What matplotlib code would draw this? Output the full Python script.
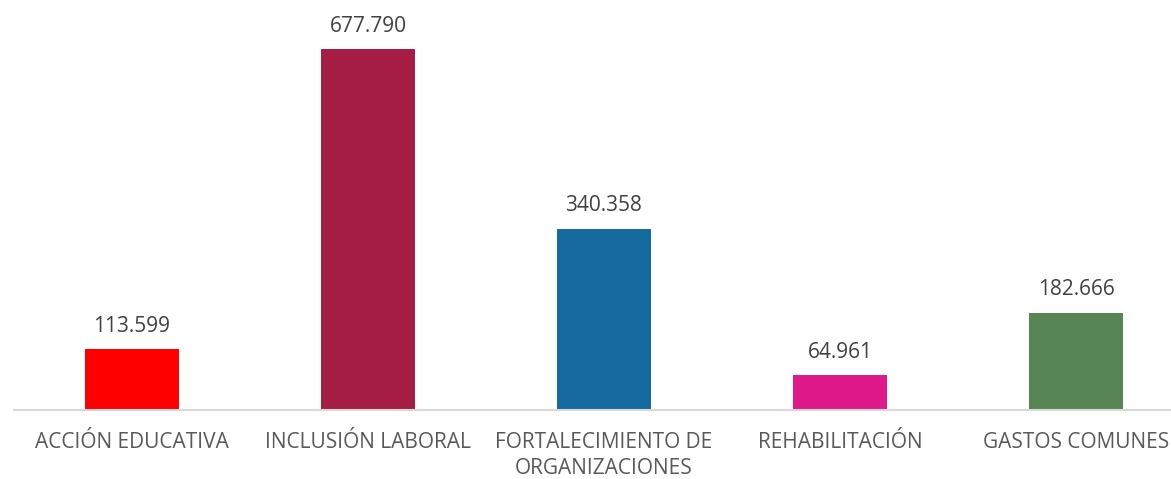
import matplotlib
matplotlib.use('Agg')
import matplotlib.pyplot as plt

categories = ['ACCIÓN EDUCATIVA', 'INCLUSIÓN LABORAL', 'FORTALECIMIENTO DE\nORGANIZACIONES',
              'REHABILITACIÓN', 'GASTOS COMUNES']
values = [113.599, 677.790, 340.358, 64.961, 182.666]
value_labels = ['113.599', '677.790', '340.358', '64.961', '182.666']
colors = ['#FF0000', '#A51C45', '#156B9F', '#E0198A', '#578654']

plt.rcParams['font.family'] = ['Open Sans', 'DejaVu Sans']

W, H = 1171, 479
fig = plt.figure(figsize=(W / 100, H / 100), dpi=100)
ax = fig.add_axes([14 / W, (H - 410) / H, (W - 14) / W, 410 / H])

x = list(range(len(categories)))
ax.bar(x, values, width=0.40, color=colors, zorder=2)

for xi, v, lab in zip(x, values, value_labels):
    ax.annotate(lab, (xi, v), xytext=(0, 9), textcoords='offset points',
                ha='center', va='bottom', fontsize=15, color='#404040')

ax.set_xlim(-0.5, (W - 14) / 236 - 0.5)
ax.set_ylim(0, 410 / (361 / 677.79))
ax.set_xticks(x)
ax.set_xticklabels(categories, fontsize=15, color='#595959', linespacing=1.3)
ax.tick_params(axis='x', length=0, pad=16)
ax.set_yticks([])
for s in ['top', 'right', 'left']:
    ax.spines[s].set_visible(False)
ax.spines['bottom'].set_color('#D9D9D9')
ax.spines['bottom'].set_linewidth(1.5)

fig.savefig('out.png', dpi=100, facecolor='white')
